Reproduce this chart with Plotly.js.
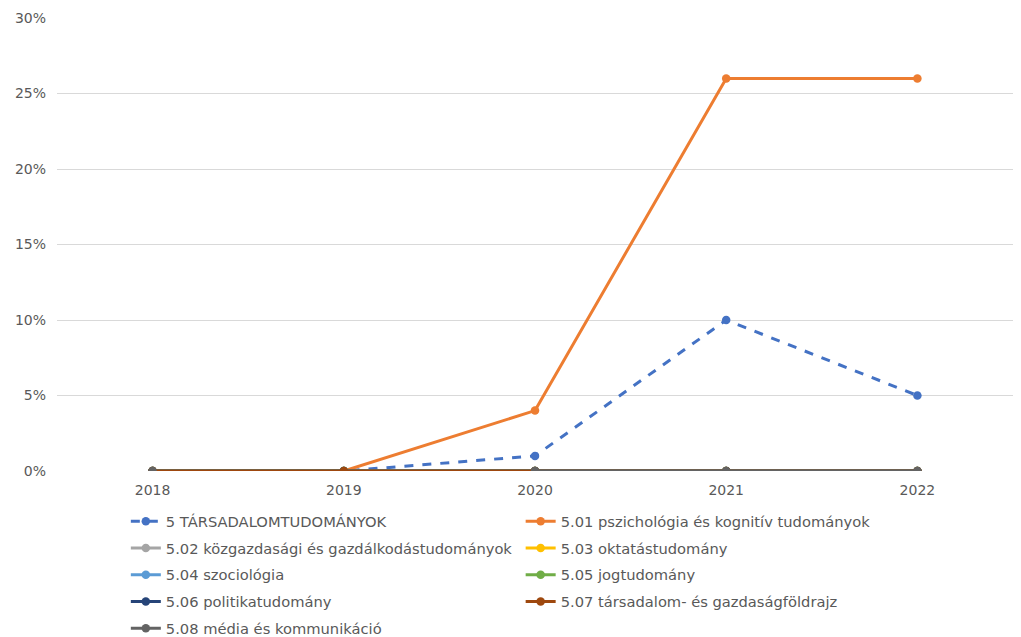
<!DOCTYPE html>
<html>
<head>
<meta charset="utf-8">
<script src="https://cdn.plot.ly/plotly-3.0.1.min.js"></script>
<style>html,body{margin:0;padding:0;background:#fff;}#chart{width:1021px;height:637px;}</style>
</head>
<body>
<div id="chart"></div>
<script>
const years = ['2018', '2019', '2020', '2021', '2022'];
const seriesNames = [
  '5 TÁRSADALOMTUDOMÁNYOK',
  '5.01 pszichológia és kognitív tudományok',
  '5.02 közgazdasági és gazdálkodástudományok',
  '5.03 oktatástudomány',
  '5.04 szociológia',
  '5.05 jogtudomány',
  '5.06 politikatudomány',
  '5.07 társadalom- és gazdaságföldrajz',
  '5.08 média és kommunikáció'
];
const s5 = [0, 0, 1, 10, 5];
const s501 = [0, 0, 4, 26, 26];
const s502 = [0, 0, 0, 0, 0];
const s503 = [0, 0, 0, 0, 0];
const s504 = [0, 0, 0, 0, 0];
const s505 = [0, 0, 0, 0, 0];
const s506 = [0, 0, 0, 0, 0];
const s507 = [0, 0, 0, 0, 0];
const s508 = [0, null, 0, 0, 0];
const seriesValues = [s5, s501, s502, s503, s504, s505, s506, s507, s508];
const colors = ['#4472C4', '#ED7D31', '#A5A5A5', '#FFC000', '#5B9BD5', '#70AD47', '#264478', '#9E480E', '#636363'];

const traces = seriesNames.map((name, i) => ({
  type: 'scatter',
  mode: 'lines+markers',
  name: name,
  x: years,
  y: seriesValues[i],
  connectgaps: false,
  legend: i % 2 === 0 ? 'legend' : 'legend2',
  legendgroup: 'g' + i,
  line: {color: colors[i], width: 3, dash: i === 0 ? 'dash' : 'solid'},
  marker: {color: colors[i], size: 8.5}
}));

const legendFont = {family: 'DejaVu Sans, sans-serif', size: 14.7, color: '#595959'};
const legendCommon = {
  orientation: 'v',
  xanchor: 'left',
  y: -0.0756,
  yanchor: 'top',
  traceorder: 'grouped',
  tracegroupgap: 4.6,
  font: legendFont,
  bgcolor: 'rgba(0,0,0,0)'
};

const layout = {
  width: 1021,
  height: 637,
  margin: {l: 57, r: 8, t: 18, b: 166, autoexpand: false},
  paper_bgcolor: '#ffffff',
  plot_bgcolor: '#ffffff',
  font: {family: 'DejaVu Sans, sans-serif', size: 14, color: '#595959'},
  showlegend: true,
  xaxis: {
    type: 'category',
    range: [-0.5, 4.5],
    showgrid: false,
    showline: false,
    zeroline: false,
    ticks: '',
    ticklabelstandoff: 9,
    automargin: false,
    tickfont: {size: 14, color: '#595959'}
  },
  yaxis: {
    range: [0, 30],
    dtick: 5,
    ticksuffix: '%',
    showgrid: true,
    gridcolor: '#D9D9D9',
    gridwidth: 1,
    zeroline: false,
    showline: false,
    ticks: '',
    ticklabelstandoff: 10,
    automargin: false,
    tickfont: {size: 14, color: '#595959'}
  },
  legend: Object.assign({}, legendCommon, {x: 0.072}),
  legend2: Object.assign({}, legendCommon, {x: 0.485})
};

Plotly.newPlot('chart', traces, layout, {displayModeBar: false, staticPlot: true});
</script>
</body>
</html>
